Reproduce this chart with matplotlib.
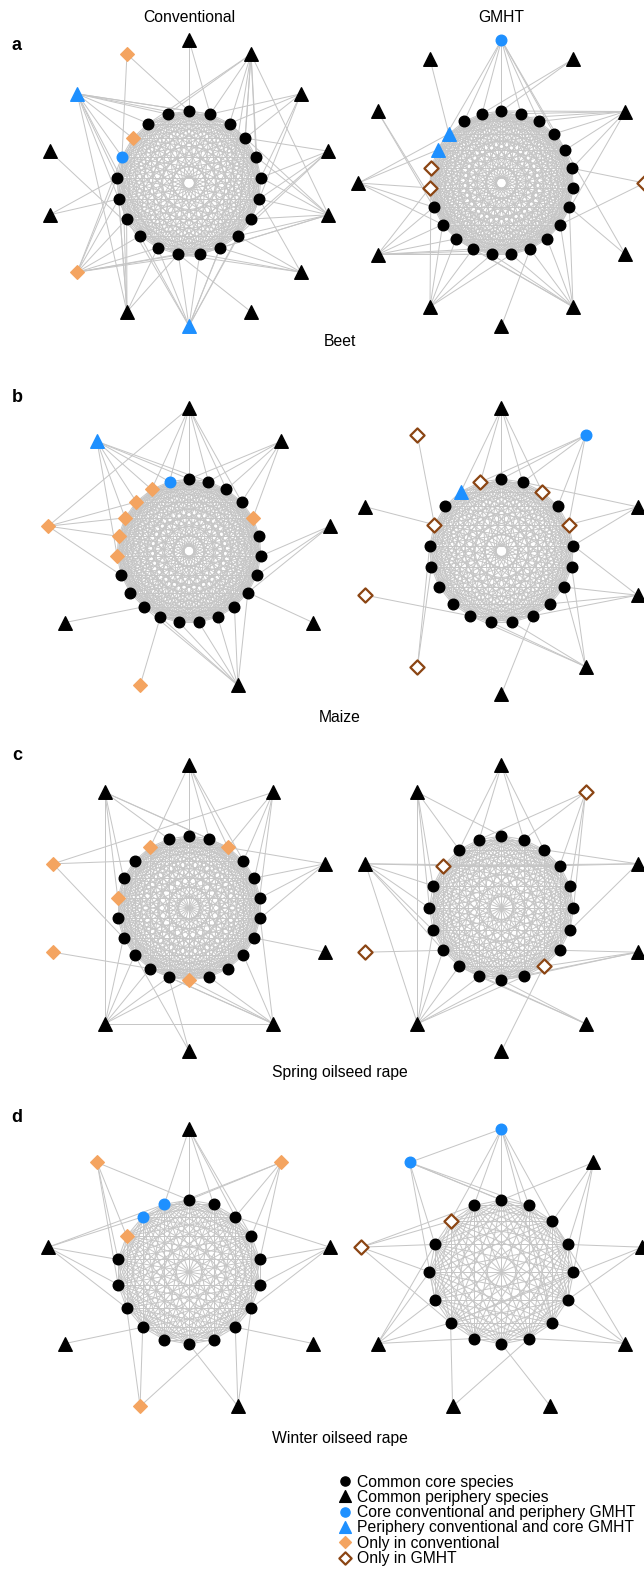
import itertools
import numpy as np
import matplotlib.pyplot as plt
from matplotlib.collections import LineCollection

plt.rcParams['font.family'] = ['Liberation Sans', 'DejaVu Sans']

crops = ['Beet', 'Maize', 'Spring oilseed rape', 'Winter oilseed rape']
panel_letters = ['a', 'b', 'c', 'd']
systems = ['Conventional', 'GMHT']

# node codes, clockwise from the top of each ring:
# k common core, K common periphery, b core conv / periphery GMHT,
# B periphery conv / core GMHT, o only conventional, g only GMHT
beet_conv_core = 'kkkkkkkkkkkkkkkkkbokk'
beet_conv_peri = 'KKKKKKKBKoKKBo'
beet_conv_links = [[0, 1], [19, 20, 1, 2, 3, 4, 6, 8, 9], [1, 2, 3, 5, 7],
                   [3, 5, 6, 7, 8], [2, 4, 5, 6, 7, 8, 9, 10], [6, 8, 9, 10, 11],
                   [11], [4, 6, 8, 9, 10, 11, 12, 13, 14], [11, 12, 14, 15, 16, 17],
                   [9, 10, 11, 12, 13, 14, 15, 16, 17], [15, 16], [13],
                   [0, 1, 2, 19, 20, 18, 17, 16, 14, 12], [17, 0]]
beet_conv_pp = [(12, 8), (1, 4)]

beet_gm_core = 'kkkkkkkkkkkkkkkkkggBBkk'
beet_gm_peri = 'bKKgKKKKKKKK'
beet_gm_links = [[19, 21, 22, 0, 1, 2, 3, 4], [0, 22], [21, 0, 1, 2, 3, 4, 5, 8],
                 [5, 8], [4, 7], [7, 8, 9, 10, 11, 12, 13, 14], [10],
                 [11, 12, 13, 14, 15, 18], [10, 11, 12, 13, 14, 15, 16, 17],
                 [20, 19, 17, 16, 15], [16, 14], [20]]
beet_gm_pp = []

maize_conv_core = 'kkkkokkkkkkkkkkkkooooob'
maize_conv_peri = 'KKKKKoKoB'
maize_conv_links = [[22, 0, 1, 2, 21, 3], [0, 1, 2, 3, 4], [6, 7, 8], [8],
                    [8, 9, 10, 11, 12, 13, 14], [13], [14], [20, 19, 18, 16],
                    [0, 1, 22, 21, 20, 19, 17]]
maize_conv_pp = [(0, 7)]

maize_gm_core = 'kkgkgkkkkkkkkkkkkgkBg'
maize_gm_peri = 'KbKKKKggKg'
maize_gm_links = [[19, 20, 0, 1, 2], [20, 0, 1, 3, 4], [1, 4, 5], [5, 7, 8, 9],
                  [6, 7, 10, 11, 12], [9], [15, 16], [12], [17], [17]]
maize_gm_pp = []

spring_conv_core = 'kkokkkkkkkkokkkkkokkok'
spring_conv_peri = 'KKKKKKKooK'
spring_conv_links = [[20, 0, 1, 2, 3], [2, 3, 4, 7], [2, 4, 5, 6], [7],
                     [6, 8, 10, 11, 12, 13], [12, 14], [11, 12, 13, 14, 15], [13],
                     [19, 15], [21, 1, 2, 17, 18]]
spring_conv_pp = [(6, 9), (6, 4), (1, 8)]

spring_gm_core = 'kkkkkkkkgkkkkkkkkgkk'
spring_gm_peri = 'KgKKKKKgKK'
spring_gm_links = [[18, 19, 1, 2], [19, 1, 3, 4, 5], [17, 2, 3, 6], [7, 8, 9, 10],
                   [10, 11, 12], [8], [9, 10, 11, 12, 13, 14], [13],
                   [17, 16, 15, 14, 13, 3], [0, 18, 16, 15]]
spring_gm_pp = [(6, 9), (8, 6)]

winter_conv_core = 'kkkkkkkkkkkkkkkobb'
winter_conv_peri = 'KoKKKoKKo'
winter_conv_links = [[17, 0, 1, 2, 3], [0, 2, 3, 4, 16], [2, 4, 5, 6], [7],
                     [6, 7, 9], [11, 12, 8], [11], [17, 16, 14, 13, 12],
                     [0, 15, 14, 13]]
winter_conv_pp = []

winter_gm_core = 'kkkkkkkkkkkkkkgk'
winter_gm_peri = 'bKKKKKKgb'
winter_gm_links = [[14, 15, 0, 1, 2, 6], [0, 2, 3, 4], [3, 5, 10], [2, 5, 6, 7],
                   [8], [10, 7], [9, 10, 11, 12, 13], [15, 14, 13, 12, 10],
                   [1, 2, 0, 13, 11]]
winter_gm_pp = [(0, 8)]

networks = [
    [(beet_conv_core, beet_conv_peri, beet_conv_links, beet_conv_pp),
     (beet_gm_core, beet_gm_peri, beet_gm_links, beet_gm_pp)],
    [(maize_conv_core, maize_conv_peri, maize_conv_links, maize_conv_pp),
     (maize_gm_core, maize_gm_peri, maize_gm_links, maize_gm_pp)],
    [(spring_conv_core, spring_conv_peri, spring_conv_links, spring_conv_pp),
     (spring_gm_core, spring_gm_peri, spring_gm_links, spring_gm_pp)],
    [(winter_conv_core, winter_conv_peri, winter_conv_links, winter_conv_pp),
     (winter_gm_core, winter_gm_peri, winter_gm_links, winter_gm_pp)],
]

legend_codes = ['k', 'K', 'b', 'B', 'o', 'g']
legend_labels = ['Common core species', 'Common periphery species',
                 'Core conventional and periphery GMHT',
                 'Periphery conventional and core GMHT',
                 'Only in conventional', 'Only in GMHT']

blue = '#1E90FF'
orange = '#F4A460'
brown = '#8B4513'
styles = {
    'k': dict(marker='o', s=58, color='black'),
    'K': dict(marker='^', s=95, color='black'),
    'b': dict(marker='o', s=58, color=blue),
    'B': dict(marker='^', s=95, color=blue),
    'o': dict(marker='D', s=48, color=orange),
    'g': dict(marker='D', s=52, facecolor='white', edgecolor=brown, linewidths=1.6),
}

fig = plt.figure(figsize=(6.44, 15.70), dpi=100)
ax = fig.add_axes([0, 0, 1, 1])
ax.set_xlim(0, 644)
ax.set_ylim(1570, 0)
ax.axis('off')

col_x = [189, 501.5]
row_y = [183, 551, 908, 1272]
r_core = 72
r_peri = 143


def ring(n, cx, cy, r):
    ang = np.pi / 2 - 2 * np.pi * np.arange(n) / n
    return np.column_stack([cx + r * np.cos(ang), cy - r * np.sin(ang)])


for i, row in enumerate(networks):
    for j, (core, peri, links, pp) in enumerate(row):
        cx, cy = col_x[j], row_y[i]
        pc = ring(len(core), cx, cy, r_core)
        pp_xy = ring(len(peri), cx, cy, r_peri)
        # core species are all linked to each other
        segs = [[pc[a], pc[b]] for a, b in itertools.combinations(range(len(core)), 2)]
        for p, targets in enumerate(links):
            segs += [[pp_xy[p], pc[t]] for t in targets]
        segs += [[pp_xy[a], pp_xy[b]] for a, b in pp]
        ax.add_collection(LineCollection(segs, colors='#c6c6c6', linewidths=0.72, zorder=1))
        for xy, codes in ((pc, core), (pp_xy, peri)):
            for code in set(codes):
                idx = [n for n, c in enumerate(codes) if c == code]
                ax.scatter(xy[idx, 0], xy[idx, 1], zorder=3, **styles[code])

for j, name in enumerate(systems):
    ax.text(col_x[j], 17, name, ha='center', va='center', fontsize=11.3)

letter_y = [45, 397, 755, 1117]
crop_y = [342, 717, 1073, 1438]
for i in range(4):
    ax.text(17, letter_y[i], panel_letters[i], ha='center', va='center',
            fontsize=13, fontweight='bold')
    ax.text(340, crop_y[i], crops[i], ha='center', va='center', fontsize=11.3)

for k, (code, label) in enumerate(zip(legend_codes, legend_labels)):
    y = 1481 + k * 15.3
    st = dict(styles[code])
    st['s'] = st['s'] * 0.75
    ax.scatter([345.5], [y], zorder=3, **st)
    ax.text(357, y + 1, label, ha='left', va='center', fontsize=11.3)

fig.savefig('out.png', dpi=100)
